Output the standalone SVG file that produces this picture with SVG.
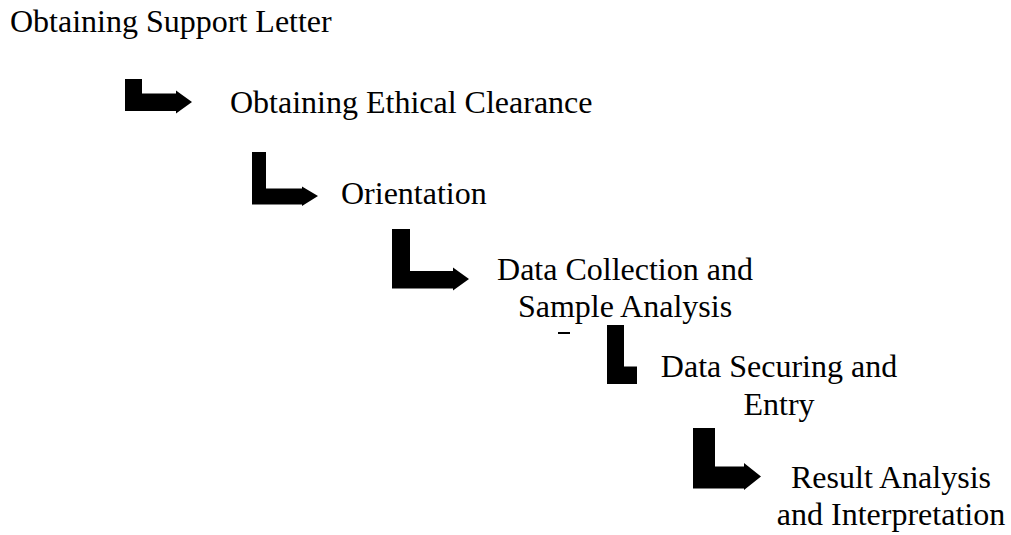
<svg xmlns="http://www.w3.org/2000/svg" width="1011" height="535" viewBox="0 0 1011 535">
<style>
.t{font-family:"Liberation Serif","Times New Roman",serif;font-size:32px;fill:#000}
.m{text-anchor:middle}
.a{fill:#000;stroke:none}
</style>
<rect width="1011" height="535" fill="#fff"/>
<g id="n1"><text class="t" x="10" y="32">Obtaining Support Letter</text></g>
<g id="n2"><text class="t" x="230" y="113">Obtaining Ethical Clearance</text></g>
<g id="n3"><text class="t" x="341" y="204">Orientation</text></g>
<g id="n4"><text class="t m" x="625" y="280">Data Collection and</text><text class="t m" x="625" y="317">Sample Analysis</text><rect class="a" x="558" y="332" width="12" height="2"/></g>
<g id="n5"><text class="t m" x="779" y="377">Data Securing and</text><text class="t m" x="779" y="415">Entry</text></g>
<g id="n6"><text class="t m" x="891" y="488">Result Analysis</text><text class="t m" x="891" y="525">and Interpretation</text></g>
<g id="connectors">
<path class="a" d="M125,79 H142 V93.5 H176 V90.5 L192,102 L176,113.5 V111 H125 Z"/>
<path class="a" d="M252,152 H266 V188.5 H302 V186.5 L318,196 L302,206 V204.5 H252 Z"/>
<path class="a" d="M392,229 H410 V271 H453 V267.5 L469,279 L453,290.5 V288.5 H392 Z"/>
<path class="a" d="M607,325 H624 V366.5 H637 V384 H607 Z"/>
<path class="a" d="M693,428 H715 V466.5 H744 V463 L761,476.5 L744,490 V488.5 H693 Z"/>
</g>
</svg>
